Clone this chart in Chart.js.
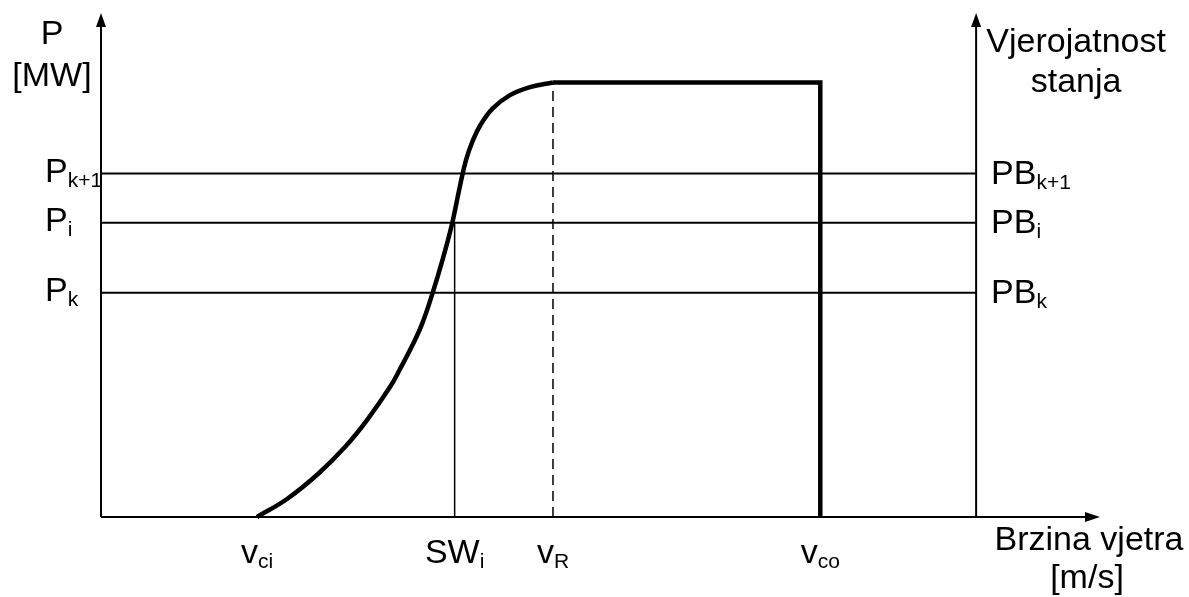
<!DOCTYPE html>
<html>
<head>
<meta charset="utf-8">
<script src="https://cdn.jsdelivr.net/npm/chart.js@4"></script>
<style>
  body { margin: 0; background: #fff; }
  canvas { display: block; }
</style>
</head>
<body>
<canvas id="powerCurve" width="1189" height="597"></canvas>
<script>
// krivulja snage vjetroelektrane (brzina vjetra [m/s] -> P [MW])
const windSpeed = [3.904, 4.655, 5.43, 6.106, 6.657, 7.232, 7.483, 7.783, 8.033, 8.283, 8.559, 8.784, 8.984, 9.134, 9.309, 9.51, 9.81, 10.235, 10.736, 11.311];
const power     = [0, 0.083, 0.198, 0.322, 0.446, 0.598, 0.681, 0.787, 0.888, 1.022, 1.192, 1.349, 1.524, 1.643, 1.735, 1.809, 1.882, 1.942, 1.979, 2.0];

const ratedPower = 2.0;
const vCutIn = 3.904;
const vSW = 8.85;
const vRated = 11.311;
const vCutOut = 18.0;

// razine snage i pripadne vjerojatnosti stanja
const levelValues = [1.581, 1.355, 1.032];
const levelSubs   = ['k+1', 'i', 'k'];

// oznake na osi x
const tickValues = [vCutIn, vSW, vRated, vCutOut];
const tickMain   = ['v', 'SW', 'v', 'v'];
const tickSubs   = ['ci', 'i', 'R', 'co'];

const xMax = 25;
const yMax = 2.32;
const rightAxisX = 21.9;

const FONT = '"Liberation Sans", Arial, Helvetica, sans-serif';

function lineSet(points, width, dash) {
    return {
        data: points, borderColor: '#000', borderWidth: width,
        borderDash: dash || [], pointRadius: 0, tension: 0, clip: false
    };
}

// tekst s indeksom (subscript)
function drawSub(ctx, main, sub, px, py, align) {
    ctx.font = '34px ' + FONT;
    const wMain = ctx.measureText(main).width;
    ctx.font = '21px ' + FONT;
    const wSub = ctx.measureText(sub).width;
    let left = px;
    if (align === 'center') left = px - (wMain + wSub) / 2;
    ctx.textAlign = 'left';
    ctx.textBaseline = 'alphabetic';
    ctx.font = '34px ' + FONT;
    ctx.fillText(main, left, py);
    ctx.font = '21px ' + FONT;
    ctx.fillText(sub, left + wMain, py + 5);
}

function arrowHead(ctx, tx, ty, dir) {
    ctx.beginPath();
    if (dir === 'up') {
        ctx.moveTo(tx, ty);
        ctx.lineTo(tx - 5, ty + 14);
        ctx.lineTo(tx + 5, ty + 14);
    } else {
        ctx.moveTo(tx, ty);
        ctx.lineTo(tx - 15, ty - 5);
        ctx.lineTo(tx - 15, ty + 5);
    }
    ctx.closePath();
    ctx.fill();
}

const axesAndLabels = {
    id: 'axesAndLabels',
    afterDatasetsDraw(chart) {
        const { ctx, scales: { x, y } } = chart;
        const x0 = x.getPixelForValue(0);
        const y0 = y.getPixelForValue(0);
        const yTop = y.getPixelForValue(yMax);
        const xEnd = x.getPixelForValue(xMax);
        const xR = x.getPixelForValue(rightAxisX);

        ctx.save();
        ctx.strokeStyle = '#000';
        ctx.fillStyle = '#000';
        ctx.lineWidth = 2;
        ctx.beginPath();
        ctx.moveTo(x0, y0); ctx.lineTo(x0, yTop + 10);
        ctx.moveTo(x0, y0); ctx.lineTo(xEnd - 10, y0);
        ctx.moveTo(xR, y0); ctx.lineTo(xR, yTop + 10);
        ctx.stroke();
        arrowHead(ctx, x0, yTop, 'up');
        arrowHead(ctx, xR, yTop, 'up');
        arrowHead(ctx, xEnd, y0, 'right');

        // naslovi osi
        ctx.font = '34px ' + FONT;
        ctx.textAlign = 'center';
        ctx.textBaseline = 'alphabetic';
        ctx.fillText('P', x0 - 49, yTop + 31);
        ctx.fillText('[MW]', x0 - 49, yTop + 73);
        ctx.fillText('Vjerojatnost', xR + 100, yTop + 39);
        ctx.fillText('stanja', xR + 100, yTop + 79);
        ctx.fillText('Brzina vjetra', xEnd - 11, y0 + 33);
        ctx.fillText('[m/s]', xEnd - 13, y0 + 71);

        // oznake razina
        levelValues.forEach((v, i) => {
            const py = y.getPixelForValue(v);
            drawSub(ctx, 'P', levelSubs[i], x0 - 56, py + 8, 'left');
            drawSub(ctx, 'PB', levelSubs[i], xR + 15, py + 10, 'left');
        });

        // oznake na osi x
        tickValues.forEach((v, i) => {
            drawSub(ctx, tickMain[i], tickSubs[i], x.getPixelForValue(v), y0 + 46, 'center');
        });
        ctx.restore();
    }
};

const curvePoints = windSpeed.map((v, i) => ({ x: v, y: power[i] }));

const datasets = [];
levelValues.forEach(v => {
    datasets.push(lineSet([{ x: 0, y: v }, { x: rightAxisX, y: v }], 2));
});
datasets.push(lineSet([{ x: vSW, y: 0 }, { x: vSW, y: levelValues[1] }], 1.5));
datasets.push(lineSet([{ x: vRated, y: 0 }, { x: vRated, y: ratedPower }], 1.5, [10, 6]));
datasets.push(Object.assign(lineSet(curvePoints, 4.5), { tension: 0.4, borderJoinStyle: 'round' }));
datasets.push(Object.assign(lineSet([{ x: vRated, y: ratedPower }, { x: vCutOut, y: ratedPower }, { x: vCutOut, y: 0 }], 4.5), { borderJoinStyle: 'miter' }));

new Chart(document.getElementById('powerCurve'), {
    type: 'line',
    data: { datasets: datasets },
    options: {
        responsive: false,
        animation: false,
        layout: { padding: { left: 101, right: 89, top: 13, bottom: 80 } },
        plugins: { legend: { display: false }, tooltip: { enabled: false } },
        scales: {
            x: { type: 'linear', min: 0, max: xMax, display: false },
            y: { type: 'linear', min: 0, max: yMax, display: false }
        }
    },
    plugins: [axesAndLabels]
});
</script>
</body>
</html>
